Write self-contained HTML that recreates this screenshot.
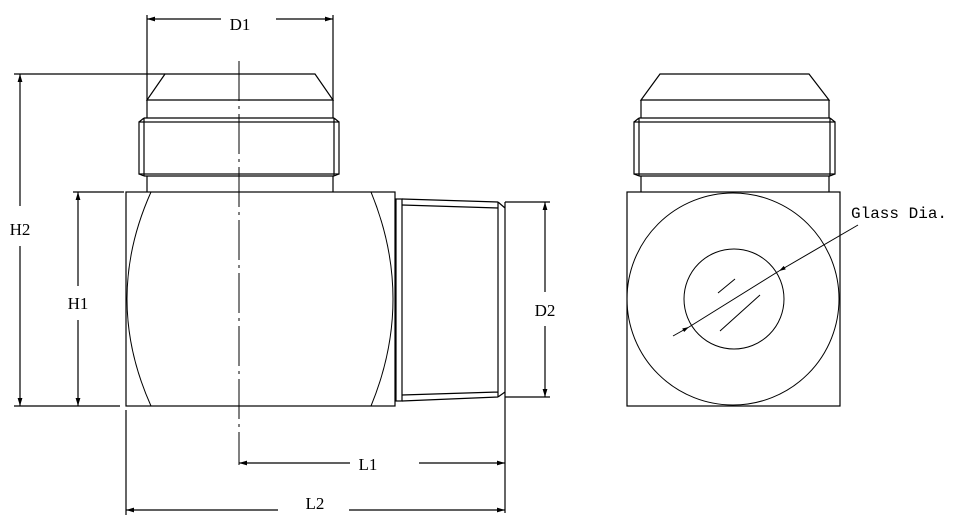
<!DOCTYPE html>
<html><head><style>body{margin:0;background:#fff}svg{display:block}text{font-family:"Liberation Serif",serif;font-size:17px;fill:#000}</style></head><body>
<svg width="962" height="522" viewBox="0 0 962 522" xmlns="http://www.w3.org/2000/svg">
<defs><marker id="a" viewBox="0 0 10 6" refX="10" refY="3" markerWidth="8" markerHeight="4" orient="auto-start-reverse"><path d="M0,0L10,3L0,6z" fill="#000"/></marker></defs>
<g stroke="#000" stroke-width="1.2" fill="none">
<path d="M165,74H315L333,100H147Z"/>
<path d="M147,100V118M333,100V118"/>
<rect x="139" y="122" width="200" height="52"/>
<path d="M144,118H334M144,176H334M144,118V176M334,118V176M139,122L144,118M339,122L334,118M139,174L144,176M339,174L334,176"/>
<path d="M147,176V192M333,176V192"/>
<rect x="126" y="192" width="269" height="214"/>
<path d="M151,192Q103,299 151,406M371,192Q415,299 371,406" stroke-width="1"/>
<rect x="396" y="199" width="6" height="202"/>
<path d="M402,199L498,202M402,205L498,208M402,401L498,397M402,395L498,392M498,202V397M505,202V397M498,202L505,208M498,397L505,392"/>
<path d="M239,61V465" stroke-dasharray="40,5,3,5" stroke-width="1"/>
<path d="M147,15V100M333,15V100"/>
<path d="M147,19H221" marker-start="url(#a)"/><path d="M276,19H333" marker-end="url(#a)"/>
<path d="M14,74H165M14,406H120M73,192H124"/>
<path d="M20,74V206" marker-start="url(#a)"/><path d="M20,246V406" marker-end="url(#a)"/>
<path d="M78,192V286" marker-start="url(#a)"/><path d="M78,320V406" marker-end="url(#a)"/>
<path d="M505,202H550M505,397H550"/>
<path d="M545,202V292" marker-start="url(#a)"/><path d="M545,326V397" marker-end="url(#a)"/>
<path d="M505,397V513M126,410V515"/>
<path d="M239,463H350" marker-start="url(#a)"/><path d="M419,463H505" marker-end="url(#a)"/>
<path d="M126,510H278" marker-start="url(#a)"/><path d="M349,510H505" marker-end="url(#a)"/>
<path d="M660,74H809L829,100H641Z"/>
<path d="M641,100V118M829,100V118"/>
<rect x="634" y="122" width="201" height="52"/>
<path d="M639,118H830M639,176H830M639,118V176M830,118V176M634,122L639,118M835,122L830,118M634,174L639,176M835,174L830,176"/>
<path d="M641,176V192M829,176V192"/>
<rect x="627" y="192" width="213" height="214"/>
<circle cx="733" cy="299" r="106" stroke-width="1"/>
<circle cx="734" cy="299" r="50" stroke-width="1"/>
<path d="M718,293L735,279M720,331L760,295" stroke-width="1"/>
<path d="M673,336L689,327" marker-end="url(#a)" stroke-width="1"/>
<path d="M689,327L779,271" stroke-width="1"/>
<path d="M858,225L779,271" marker-end="url(#a)" stroke-width="1"/>
</g>
<text x="240" y="30" text-anchor="middle">D1</text>
<text x="20" y="235" text-anchor="middle">H2</text>
<text x="78" y="309" text-anchor="middle">H1</text>
<text x="545" y="316" text-anchor="middle">D2</text>
<text x="368" y="470" text-anchor="middle">L1</text>
<text x="315" y="509" text-anchor="middle">L2</text>
<text x="851" y="218" style="font-family:'Liberation Mono',monospace;font-size:16px">Glass Dia.</text>
</svg>
</body></html>
